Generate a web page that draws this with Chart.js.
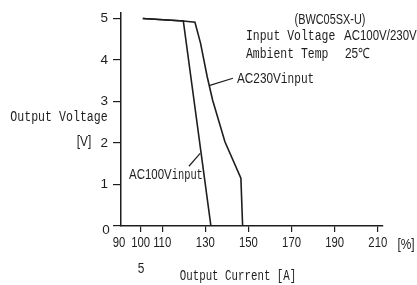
<!DOCTYPE html>
<html>
<head>
<meta charset="utf-8">
<script src="https://cdn.jsdelivr.net/npm/chart.js@4.4.1/dist/chart.umd.min.js"></script>
<style>
  html, body { margin: 0; padding: 0; background: #fff; }
  #wrap { width: 417px; height: 285px; position: relative; }
</style>
</head>
<body>
<div id="wrap"><canvas id="c" width="417" height="285"></canvas></div>
<script>
// ---- data ----
const xTickValues = [90, 100, 110, 130, 150, 170, 190, 210];   // output current [%]
const yTickValues = [0, 1, 2, 3, 4, 5];                          // output voltage [V]

const ac100Current = [101, 119.8, 132.6];
const ac100Voltage = [5.0, 4.94, 0];

const ac230Current = [101, 119.8, 125.2, 127.8, 130.9, 133.4, 139.1, 146.5, 147.3];
const ac230Voltage = [5.0, 4.94, 4.91, 4.40, 3.59, 3.03, 2.03, 1.15, 0];

// annotation anchors in data space: [current, voltage]
const ac230Leader = [[132.1, 3.39], [142.8, 3.56]];
const ac230LabelAt = [144.7, 3.53];
const ac100Leader = [[127.6, 1.75], [122.4, 1.44]];
const ac100LabelAt = [94.6, 1.23];

const X_MIN = 90.9, X_MAX = 212.4, Y_MIN = 0, Y_MAX = 5.13;

const MONO = "'Liberation Mono', 'DejaVu Sans Mono', monospace";
const SANS = "'Liberation Sans', Arial, sans-serif";
const INK = '#1e1e1e';

function txt(ctx, s, x, y, size, family, sx, align, color) {
  ctx.save();
  ctx.font = size + 'px ' + family;
  ctx.fillStyle = color || INK;
  ctx.textBaseline = 'middle';
  const w = ctx.measureText(s).width * sx;
  let x0 = x;
  if (align === 'center') x0 = x - w / 2;
  else if (align === 'right') x0 = x - w;
  ctx.translate(x0, y);
  ctx.scale(sx, 1);
  ctx.textAlign = 'left';
  ctx.fillText(s, 0, 0);
  ctx.restore();
  return w;
}

const annotate = {
  id: 'annotate',
  afterDraw(chart) {
    const ctx = chart.ctx;
    const xs = chart.scales.x, ys = chart.scales.y;
    const P = (p) => [xs.getPixelForValue(p[0]), ys.getPixelForValue(p[1])];

    // x tick labels (narrow, placed by the x scale)
    xTickValues.forEach(v => {
      txt(ctx, String(v), xs.getPixelForValue(v), xs.top + 17, 14, SANS, 0.81, 'center');
    });
    // y "0" label sits a little below its tick in the reference
    txt(ctx, String(yTickValues[0]), ys.right - 15, ys.getPixelForValue(yTickValues[0]) + 4, 13.5, SANS, 1, 'center');

    // leader lines
    ctx.save();
    ctx.strokeStyle = INK;
    ctx.lineWidth = 1.2;
    [ac230Leader, ac100Leader].forEach(l => {
      const a = P(l[0]), b = P(l[1]);
      ctx.beginPath(); ctx.moveTo(a[0], a[1]); ctx.lineTo(b[0], b[1]); ctx.stroke();
    });
    ctx.restore();

    // curve labels
    let p = P(ac230LabelAt);
    let w = txt(ctx, 'AC230V', p[0], p[1], 14, SANS, 0.84, 'left');
    txt(ctx, 'input', p[0] + w, p[1], 14.5, MONO, 0.77, 'left');
    p = P(ac100LabelAt);
    w = txt(ctx, 'AC100V', p[0], p[1], 14, SANS, 0.82, 'left');
    txt(ctx, 'input', p[0] + w, p[1], 14, MONO, 0.74, 'left');

    // header block
    txt(ctx, '(BWC05SX-U)', 330, 20, 14, SANS, 0.78, 'center');
    txt(ctx, 'Input Voltage', 246, 36, 14.5, MONO, 0.79, 'left');
    txt(ctx, 'AC100V/230V', 344, 36, 14, SANS, 0.82, 'left');
    txt(ctx, 'Ambient Temp', 246, 54, 14.5, MONO, 0.79, 'left');
    txt(ctx, '25\u2103', 345, 54, 14, SANS, 0.85, 'left');

    // axis titles
    txt(ctx, 'Output Voltage', 59, 117, 14.5, MONO, 0.8, 'center');
    txt(ctx, '[V]', 84, 142, 14, SANS, 0.85, 'center');
    txt(ctx, 'Output Current [A]', 238, 276, 14, MONO, 0.77, 'center');
    txt(ctx, '5', 141, 269, 14, SANS, 0.85, 'center');
    txt(ctx, '[%]', 406, 245, 14, SANS, 0.85, 'center');
  }
};

const toPts = (xa, ya) => xa.map((v, i) => ({ x: v, y: ya[i] }));

new Chart(document.getElementById('c'), {
  type: 'line',
  data: {
    datasets: [
      { label: 'AC100Vinput', data: toPts(ac100Current, ac100Voltage),
        borderColor: INK, borderWidth: 1.6, pointRadius: 0, tension: 0, fill: false },
      { label: 'AC230Vinput', data: toPts(ac230Current, ac230Voltage),
        borderColor: INK, borderWidth: 1.6, pointRadius: 0, tension: 0, fill: false }
    ]
  },
  options: {
    responsive: false,
    animation: false,
    devicePixelRatio: 1,
    layout: { padding: { left: 0, right: 34, top: 12.7, bottom: 0 } },
    plugins: { legend: { display: false }, tooltip: { enabled: false }, title: { display: false } },
    scales: {
      x: {
        type: 'linear', min: X_MIN, max: X_MAX,
        afterBuildTicks: (s) => { s.ticks = xTickValues.map(v => ({ value: v })); },
        afterFit: (s) => { s.height = 59; },
        ticks: { display: false, autoSkip: false },
        grid: {
          drawOnChartArea: false, drawTicks: true, tickLength: 6, lineWidth: 1.2,
          color: (c) => (c.tick && c.tick.value < X_MIN) ? 'rgba(0,0,0,0)' : INK
        },
        border: { display: true, color: INK, width: 1.5 }
      },
      y: {
        type: 'linear', min: Y_MIN, max: Y_MAX,
        afterBuildTicks: (s) => { s.ticks = yTickValues.map(v => ({ value: v })); },
        afterFit: (s) => { s.width = 121; },
        ticks: {
          autoSkip: false, padding: 5, color: INK,
          font: { family: SANS, size: 13.5 },
          callback: (v, i) => (i === 0 ? '' : String(yTickValues[i]))
        },
        grid: { drawOnChartArea: false, drawTicks: true, tickLength: 8, color: INK, lineWidth: 1.2 },
        border: { display: true, color: INK, width: 1.5 }
      }
    }
  },
  plugins: [annotate]
});
</script>
</body>
</html>
